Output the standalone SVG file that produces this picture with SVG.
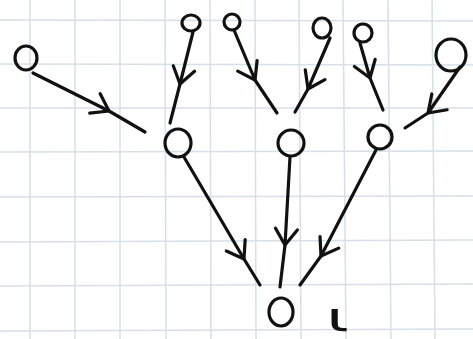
<svg xmlns="http://www.w3.org/2000/svg" width="473" height="339" viewBox="0 0 473 339">
<defs>
<style>
.grid line{stroke:#d8dfe7;stroke-width:1.5}
.node ellipse{fill:none;stroke:#111;stroke-width:3.2}
.edges path{fill:none;stroke:#111;stroke-width:3.2;stroke-linecap:round;stroke-linejoin:round;marker-mid:url(#v)}
.lbl{font-family:"DejaVu Sans",sans-serif;font-size:40px;fill:#111}
</style>
<marker id="v" markerUnits="userSpaceOnUse" markerWidth="40" markerHeight="40" viewBox="-20 -20 40 40" refX="0" refY="0" orient="auto">
<path d="M-16,-11 L0,0 L-16,11" fill="none" stroke="#111" stroke-width="3.2" stroke-linecap="round" stroke-linejoin="round"/>
</marker>
</defs>
<rect width="473" height="339" fill="#ffffff"/>
<g class="grid">
<line x1="30" y1="0" x2="30" y2="339"/>
<line x1="75" y1="0" x2="75" y2="339"/>
<line x1="120" y1="0" x2="120" y2="339"/>
<line x1="165" y1="0" x2="166" y2="339"/>
<line x1="210" y1="0" x2="211" y2="339"/>
<line x1="255" y1="0" x2="256" y2="339"/>
<line x1="299" y1="0" x2="301" y2="339"/>
<line x1="343" y1="0" x2="346" y2="339"/>
<line x1="388" y1="0" x2="391" y2="339"/>
<line x1="432" y1="0" x2="435" y2="339"/>
<line x1="0" y1="20" x2="473" y2="21"/>
<line x1="0" y1="64" x2="473" y2="65"/>
<line x1="0" y1="108" x2="473" y2="108"/>
<line x1="0" y1="152" x2="473" y2="151"/>
<line x1="0" y1="197" x2="473" y2="196"/>
<line x1="0" y1="242" x2="473" y2="240"/>
<line x1="0" y1="286" x2="473" y2="284"/>
<line x1="0" y1="331" x2="473" y2="329"/>
</g>
<g class="edges">
<path d="M33,73 L109,111 L145,132"/>
<path d="M193,32 L180,84 L170,123"/>
<path d="M234,30 L255,80 L277,113"/>
<path d="M330,38 L308,89 L295,112"/>
<path d="M360,43 L370,78 L383,110"/>
<path d="M460,67 L428,113 L405,128"/>
<path d="M184,157 L244,259 L260,285"/>
<path d="M290,157 L285,245 L280,287"/>
<path d="M376,150 L321,256 L300,285"/>
</g>
<g id="n-left" class="node"><ellipse cx="26" cy="58" rx="11" ry="12"/></g>
<g id="n-top1" class="node"><ellipse cx="191" cy="23" rx="9" ry="8"/></g>
<g id="n-top2" class="node"><ellipse cx="232" cy="22" rx="8" ry="8"/></g>
<g id="n-top3" class="node"><ellipse cx="322" cy="28" rx="9" ry="10"/></g>
<g id="n-top4" class="node"><ellipse cx="363" cy="33" rx="9" ry="9"/></g>
<g id="n-top5" class="node"><ellipse cx="451" cy="55" rx="15" ry="16"/></g>
<g id="n-mid1" class="node"><ellipse cx="178" cy="143" rx="13" ry="14"/></g>
<g id="n-mid2" class="node"><ellipse cx="291" cy="143" rx="13" ry="13"/></g>
<g id="n-mid3" class="node"><ellipse cx="380" cy="137" rx="12" ry="12"/></g>
<g id="n-root" class="node"><ellipse cx="281" cy="312" rx="12" ry="14"/></g>
<text class="lbl" transform="translate(326,331) scale(1.7,1)" x="0" y="0">ι</text>
</svg>
